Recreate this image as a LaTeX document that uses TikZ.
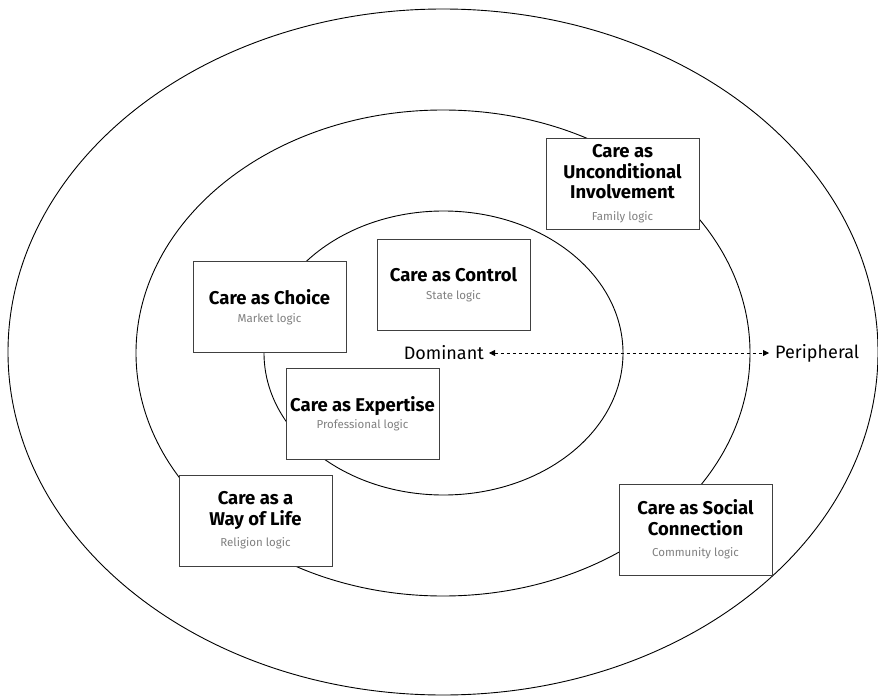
\documentclass[tikz,border=0pt]{standalone}
\usepackage{fontspec}
\setmainfont{Fira Sans}
\usetikzlibrary{arrows.meta}
\definecolor{boxline}{HTML}{404040}
\definecolor{logicgray}{HTML}{808080}
\newcommand{\logicname}[1]{{\mdseries\color{logicgray}\fontsize{11.5}{14}\selectfont #1}}
\tikzset{
  ring/.style={draw=black, line width=0.9pt},
  carebox/.style={draw=boxline, fill=white, line width=0.9pt, minimum width=153pt,
    minimum height=91pt, align=center, inner sep=2pt,
    font=\bfseries\fontsize{18.5}{20.5}\selectfont},
  axislabel/.style={font=\fontsize{18}{21}\selectfont, inner sep=0pt},
  axis/.style={dashed, line width=0.8pt, {Triangle[length=6pt,width=6pt]}-{Triangle[length=6pt,width=6pt]}}
}
\begin{document}
\begin{tikzpicture}[x=1pt,y=-1pt]
  \useasboundingbox (0,0) rectangle (878,698);
  % nested rings of institutional logics
  \draw[ring] (443,352) ellipse [x radius=435, y radius=343];
  \draw[ring] (443,353) ellipse [x radius=307, y radius=243];
  \draw[ring] (443.5,353) ellipse [x radius=179.5, y radius=142];

  % axis from dominant to peripheral
  \node[axislabel, anchor=east] (dom) at (484,353) {Dominant};
  \node[axislabel, anchor=west] (per) at (775,353) {Peripheral};
  \draw[axis] ([xshift=5pt]dom.east) -- ([xshift=-6pt]per.west);

  % care logics
  \node[carebox] (family) at (622.5,183.5) {Care as\\Unconditional\\Involvement\\[1pt]\logicname{Family logic}};
  \node[carebox] (state) at (453.5,284.5) {Care as Control\\[-3pt]\logicname{State logic}};
  \node[carebox] (market) at (269.5,307) {Care as Choice\\[-3pt]\logicname{Market logic}};
  \node[carebox] (prof) at (362.5,413.5) {Care as Expertise\\[-3pt]\logicname{Professional logic}};
  \node[carebox] (religion) at (255.5,520.5) {Care as a\\Way of Life\\[1pt]\logicname{Religion logic}};
  \node[carebox] (community) at (695.5,529.5) {Care as Social\\Connection\\[1pt]\logicname{Community logic}};
\end{tikzpicture}
\end{document}
